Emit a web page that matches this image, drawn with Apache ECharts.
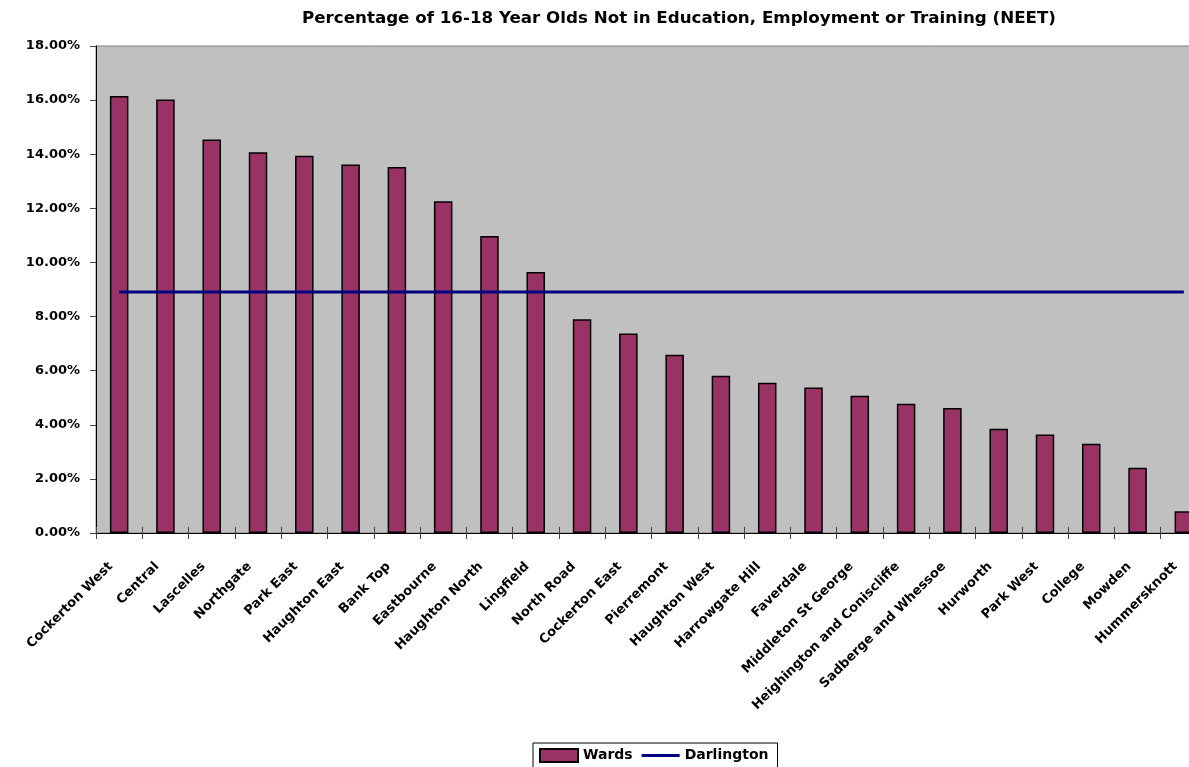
<!DOCTYPE html>
<html>
<head>
<meta charset="utf-8">
<script src="https://cdn.jsdelivr.net/npm/echarts@6/dist/echarts.min.js"></script>
<style>
html,body{margin:0;padding:0;background:#fff;overflow:hidden;width:1189px;height:767px;}
#chart{width:1208px;height:767px;}
</style>
</head>
<body>
<div id="chart"></div>
<script>
const titleText = 'Percentage of 16-18 Year Olds Not in Education, Employment or Training (NEET)';
const wards = ['Cockerton West','Central','Lascelles','Northgate','Park East','Haughton East','Bank Top','Eastbourne','Haughton North','Lingfield','North Road','Cockerton East','Pierremont','Haughton West','Harrowgate Hill','Faverdale','Middleton St George','Heighington and Coniscliffe','Sadberge and Whessoe','Hurworth','Park West','College','Mowden','Hummersknott'];
const wardValues = [16.15,16.02,14.54,14.07,13.94,13.62,13.53,12.26,10.98,9.65,7.90,7.37,6.59,5.81,5.55,5.38,5.07,4.78,4.62,3.85,3.64,3.30,2.41,0.80];
const darlingtonValue = 8.91;
const darlingtonValues = wards.map(() => darlingtonValue);
const yTicks = {min: 0, max: 18, interval: 2};

const FONT = '"DejaVu Sans"';
const chart = echarts.init(document.getElementById('chart'));
chart.setOption({
  animation: false,
  backgroundColor: '#ffffff',
  title: {
    text: titleText,
    left: 674, top: 5, textAlign: 'center',
    textStyle: {fontFamily: FONT, fontWeight: 'bold', fontSize: 16.7, color: '#000'}
  },
  grid: {
    left: 96, top: 46, width: 1111, height: 487,
    show: true, backgroundColor: '#C0C0C0', borderColor: '#808080', borderWidth: 1
  },
  legend: {
    left: 533, top: 743,
    data: [
      {name: 'Wards', icon: 'rect'},
      {name: 'Darlington', icon: 'path://M0,0 L40,0 L40,3 L0,3 Z'}
    ],
    borderColor: '#000', borderWidth: 1, borderRadius: 0,
    padding: [5, 9, 5, 6], itemGap: 9, itemWidth: 38, itemHeight: 13,
    textStyle: {fontFamily: FONT, fontWeight: 'bold', fontSize: 14, color: '#000'}
  },
  xAxis: [
    {
      type: 'category', data: wards,
      axisLine: {show: true, lineStyle: {color: '#000', width: 1}},
      axisTick: {show: true, interval: 0, alignWithLabel: false, length: 6, lineStyle: {color: '#444'}},
      axisLabel: {
        interval: 0, rotate: 45, margin: 23,
        fontFamily: FONT, fontWeight: 'bold', fontSize: 13, color: '#000',
        padding: [0, 12, 0, 0]
      },
      splitLine: {show: false}
    },
    {
      type: 'category', data: wards, position: 'bottom',
      axisLine: {show: false},
      axisTick: {show: true, interval: 0, inside: true, alignWithLabel: false, length: 6, lineStyle: {color: '#444'}},
      axisLabel: {show: false, interval: 0},
      splitLine: {show: false}
    }
  ],
  yAxis: {
    type: 'value', min: yTicks.min, max: yTicks.max, interval: yTicks.interval,
    axisLine: {show: true, lineStyle: {color: '#000', width: 1}},
    axisTick: {show: true, length: 6, lineStyle: {color: '#444'}},
    axisLabel: {
      formatter: v => v.toFixed(2) + '%', margin: 16,
      fontFamily: FONT, fontWeight: 'bold', fontSize: 13, color: '#000'
    },
    splitLine: {show: false}
  },
  series: [
    {
      name: 'Wards', type: 'bar', data: wardValues, barWidth: '40%',
      itemStyle: {color: '#993366', borderColor: '#000', borderWidth: 1.5}
    },
    {
      name: 'Darlington', type: 'line', data: darlingtonValues,
      symbol: 'none', showSymbol: false,
      lineStyle: {color: '#000080', width: 3},
      itemStyle: {color: '#000080'}
    }
  ]
});
</script>
</body>
</html>
